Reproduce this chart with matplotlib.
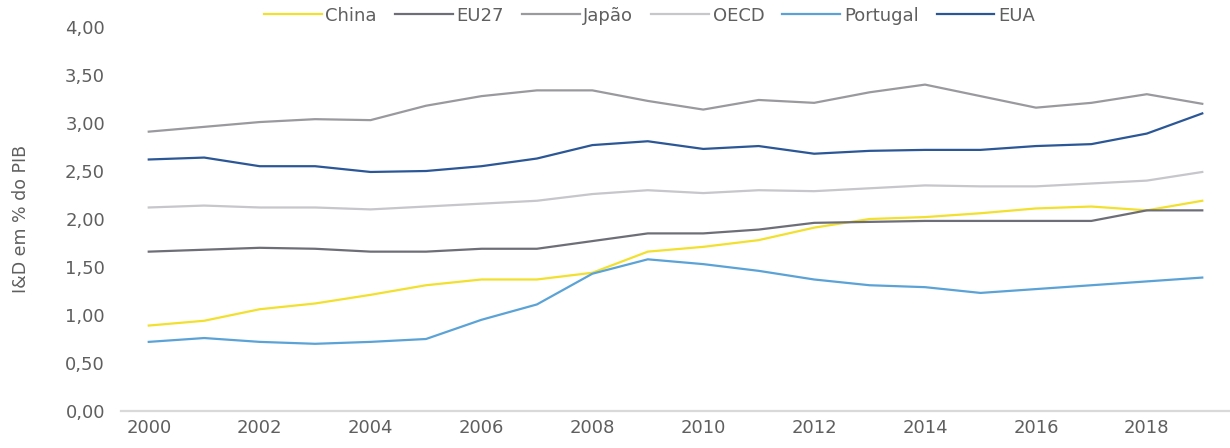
import matplotlib
matplotlib.use("Agg")
import matplotlib.pyplot as plt
from matplotlib.ticker import FuncFormatter

# I&D em % do PIB, 2000-2019
years = list(range(2000, 2020))
china = [0.89, 0.94, 1.06, 1.12, 1.21, 1.31, 1.37, 1.37, 1.44, 1.66,
         1.71, 1.78, 1.91, 2.00, 2.02, 2.06, 2.11, 2.13, 2.09, 2.19]
eu27 = [1.66, 1.68, 1.70, 1.69, 1.66, 1.66, 1.69, 1.69, 1.77, 1.85,
        1.85, 1.89, 1.96, 1.97, 1.98, 1.98, 1.98, 1.98, 2.09, 2.09]
japao = [2.91, 2.96, 3.01, 3.04, 3.03, 3.18, 3.28, 3.34, 3.34, 3.23,
         3.14, 3.24, 3.21, 3.32, 3.40, 3.28, 3.16, 3.21, 3.30, 3.20]
oecd = [2.12, 2.14, 2.12, 2.12, 2.10, 2.13, 2.16, 2.19, 2.26, 2.30,
        2.27, 2.30, 2.29, 2.32, 2.35, 2.34, 2.34, 2.37, 2.40, 2.49]
portugal = [0.72, 0.76, 0.72, 0.70, 0.72, 0.75, 0.95, 1.11, 1.43, 1.58,
            1.53, 1.46, 1.37, 1.31, 1.29, 1.23, 1.27, 1.31, 1.35, 1.39]
eua = [2.62, 2.64, 2.55, 2.55, 2.49, 2.50, 2.55, 2.63, 2.77, 2.81,
       2.73, 2.76, 2.68, 2.71, 2.72, 2.72, 2.76, 2.78, 2.89, 3.10]

series = [
    ("China", china, "#F2E02E"),
    ("EU27", eu27, "#6E6E78"),
    ("Japão", japao, "#9A9A9E"),
    ("OECD", oecd, "#C6C6CB"),
    ("Portugal", portugal, "#5BA3D6"),
    ("EUA", eua, "#2B5797"),
]

text_col = "#5F5F5F"

fig = plt.figure(figsize=(12.3, 4.48), dpi=100)
ax = fig.add_axes([0.0984, 0.0826, 0.9016, 0.8571])

x = list(range(len(years)))
for name, vals, col in series:
    ax.plot(x, vals, color=col, linewidth=1.6, label=name)

ax.set_xlim(-0.5, len(years) - 0.5)
ax.set_ylim(0, 4)
ax.set_yticks([i * 0.5 for i in range(9)])
ax.yaxis.set_major_formatter(FuncFormatter(lambda v, _: f"{v:.2f}".replace(".", ",")))
ax.set_xticks(x[::2])
ax.set_xticklabels([str(y) for y in years[::2]])

for s in ("top", "right", "left"):
    ax.spines[s].set_visible(False)
ax.spines["bottom"].set_color("#D9D9D9")
ax.spines["bottom"].set_linewidth(1.6)
ax.tick_params(axis="both", length=0, labelsize=13, colors=text_col)
ax.tick_params(axis="y", pad=11.5)
ax.tick_params(axis="x", pad=6)

ax.set_ylabel("I&D em % do PIB", fontsize=12.5, color=text_col)
ax.yaxis.set_label_coords(-0.082, 0.5)

fig.legend(loc="center", bbox_to_anchor=(0.528, 0.965), ncol=6, frameon=False,
           fontsize=13, labelcolor=text_col, handlelength=3.2, handletextpad=0.2,
           columnspacing=1.0)

fig.savefig("out.png", dpi=100)
